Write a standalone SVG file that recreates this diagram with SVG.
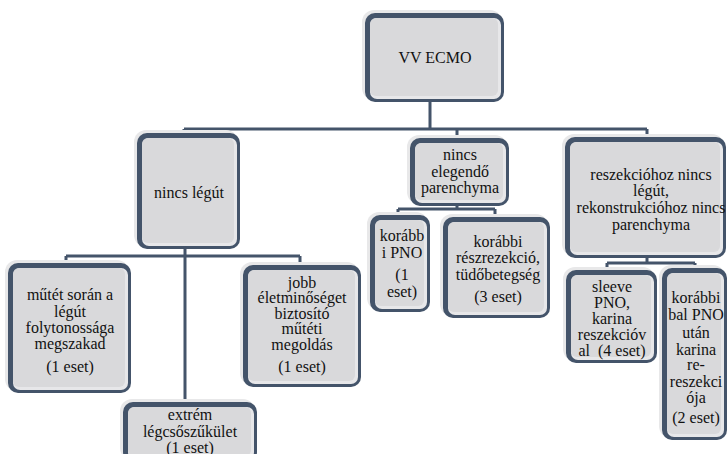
<svg xmlns="http://www.w3.org/2000/svg" width="727" height="454" viewBox="0 0 727 454">
<style>
.halo{fill:#e8e8e9}
.frame{fill:#44546a}
.light{fill:#e7e7e9}
.fill{fill:#d9d9db}
.conn{stroke:#44546a;stroke-width:3;fill:none}
.t{font-family:'Liberation Serif','DejaVu Serif',serif;font-size:16px;fill:#111;text-anchor:middle}
</style>
<rect width="727" height="454" fill="#fff"/>
<g id="connectors" class="conn">
<path d="M430 102V129M184 129H647M184 129V134M457 129V139M647 129V138"/>
<path d="M185 249V403M66 256H300M66 256V264M300 256V266"/>
<path d="M457 206V209M398 209H495M398 209V216M495 209V218"/>
<path d="M647 258V263M607 263H695M607 263V271M695 263V269"/>
</g>
<g id="n-vvecmo">
<rect class="halo" x="362" y="10" width="140" height="90" rx="12"/>
<rect class="frame" x="365" y="13" width="139" height="89" rx="10"/>
<rect class="light" x="370" y="18" width="131" height="81" rx="7"/>
<rect class="fill" x="370" y="18" width="128" height="78" rx="6"/>
<text class="t" font-family="Liberation Serif, serif" x="435" y="63">VV ECMO</text>
</g>
<g id="n-nincs-leggut">
<rect class="halo" x="134" y="130" width="104" height="117" rx="12"/>
<rect class="frame" x="137" y="133" width="103" height="116" rx="10"/>
<rect class="light" x="142" y="138" width="95" height="108" rx="7"/>
<rect class="fill" x="142" y="138" width="92" height="105" rx="6"/>
<text class="t" x="189" y="198">nincs légút</text>
</g>
<g id="n-nincs-elegendo">
<rect class="halo" x="407" y="135" width="100" height="69" rx="12"/>
<rect class="frame" x="410" y="138" width="99" height="68" rx="10"/>
<rect class="light" x="415" y="143" width="91" height="60" rx="7"/>
<rect class="fill" x="415" y="143" width="88" height="57" rx="6"/>
<text class="t" x="460" y="160">nincs</text>
<text class="t" x="460" y="177">elegendő</text>
<text class="t" x="460" y="193">parenchyma</text>
</g>
<g id="n-reszekciohoz">
<rect class="halo" x="562" y="134" width="162" height="122" rx="12"/>
<rect class="frame" x="565" y="137" width="161" height="121" rx="10"/>
<rect class="light" x="570" y="142" width="153" height="113" rx="7"/>
<rect class="fill" x="570" y="142" width="150" height="110" rx="6"/>
<text class="t" x="651" y="180">reszekcióhoz nincs</text>
<text class="t" x="651" y="196">légút,</text>
<text class="t" x="651" y="213">rekonstrukcióhoz nincs</text>
<text class="t" x="651" y="230">parenchyma</text>
</g>
<g id="n-mutet">
<rect class="halo" x="5" y="260" width="124" height="131" rx="12"/>
<rect class="frame" x="8" y="263" width="123" height="130" rx="10"/>
<rect class="light" x="13" y="268" width="115" height="122" rx="7"/>
<rect class="fill" x="13" y="268" width="112" height="119" rx="6"/>
<text class="t" x="70" y="300">műtét során a</text>
<text class="t" x="70" y="317">légút</text>
<text class="t" x="70" y="333">folytonossága</text>
<text class="t" x="70" y="349">megszakad</text>
<text class="t" x="70" y="372">(1 eset)</text>
</g>
<g id="n-jobb">
<rect class="halo" x="240" y="262" width="119" height="123" rx="12"/>
<rect class="frame" x="243" y="265" width="118" height="122" rx="10"/>
<rect class="light" x="248" y="270" width="110" height="114" rx="7"/>
<rect class="fill" x="248" y="270" width="107" height="111" rx="6"/>
<text class="t" x="302" y="288">jobb</text>
<text class="t" x="302" y="303">életminőséget</text>
<text class="t" x="302" y="319">biztosító</text>
<text class="t" x="302" y="334">műtéti</text>
<text class="t" x="302" y="350">megoldás</text>
<text class="t" x="302" y="372">(1 eset)</text>
</g>
<g id="n-extrem">
<rect class="halo" x="120" y="399" width="135" height="61" rx="12"/>
<rect class="frame" x="123" y="402" width="134" height="60" rx="10"/>
<rect class="light" x="128" y="407" width="126" height="52" rx="7"/>
<rect class="fill" x="128" y="407" width="123" height="49" rx="6"/>
<text class="t" x="190" y="420">extrém</text>
<text class="t" x="190" y="437">légcsőszűkület</text>
<text class="t" x="190" y="453">(1 eset)</text>
</g>
<g id="n-korabbi-pno">
<rect class="halo" x="367" y="212" width="61" height="98" rx="12"/>
<rect class="frame" x="370" y="215" width="60" height="97" rx="10"/>
<rect class="light" x="375" y="220" width="52" height="89" rx="7"/>
<rect class="fill" x="375" y="220" width="49" height="86" rx="6"/>
<text class="t" x="402" y="241">korább</text>
<text class="t" x="402" y="258">i PNO</text>
<text class="t" x="402" y="280">(1</text>
<text class="t" x="402" y="297">eset)</text>
</g>
<g id="n-korabbi-reszrezekcio">
<rect class="halo" x="440" y="214" width="108" height="102" rx="12"/>
<rect class="frame" x="443" y="217" width="107" height="101" rx="10"/>
<rect class="light" x="448" y="222" width="99" height="93" rx="7"/>
<rect class="fill" x="448" y="222" width="96" height="90" rx="6"/>
<text class="t" x="498" y="247">korábbi</text>
<text class="t" x="498" y="263">részrezekció,</text>
<text class="t" x="498" y="280">tüdőbetegség</text>
<text class="t" x="498" y="302">(3 eset)</text>
</g>
<g id="n-sleeve">
<rect class="halo" x="563" y="267" width="92" height="94" rx="12"/>
<rect class="frame" x="566" y="270" width="91" height="93" rx="10"/>
<rect class="light" x="571" y="275" width="83" height="85" rx="7"/>
<rect class="fill" x="571" y="275" width="80" height="82" rx="6"/>
<text class="t" x="612" y="292">sleeve</text>
<text class="t" x="612" y="308">PNO,</text>
<text class="t" x="612" y="324">karina</text>
<text class="t" x="612" y="340">reszekcióv</text>
<text class="t" x="612" y="356" xml:space="preserve">al  (4 eset)</text>
</g>
<g id="n-korabbi-bal">
<rect class="halo" x="659" y="265" width="66" height="173" rx="12"/>
<rect class="frame" x="662" y="268" width="65" height="172" rx="10"/>
<rect class="light" x="667" y="273" width="57" height="164" rx="7"/>
<rect class="fill" x="667" y="273" width="54" height="161" rx="6"/>
<text class="t" x="696" y="303">korábbi</text>
<text class="t" x="696" y="320">bal PNO</text>
<text class="t" x="696" y="338">után</text>
<text class="t" x="696" y="355">karina</text>
<text class="t" x="696" y="370">re-</text>
<text class="t" x="696" y="387">reszekci</text>
<text class="t" x="696" y="403">ója</text>
<text class="t" x="696" y="423">(2 eset)</text>
</g>
</svg>
